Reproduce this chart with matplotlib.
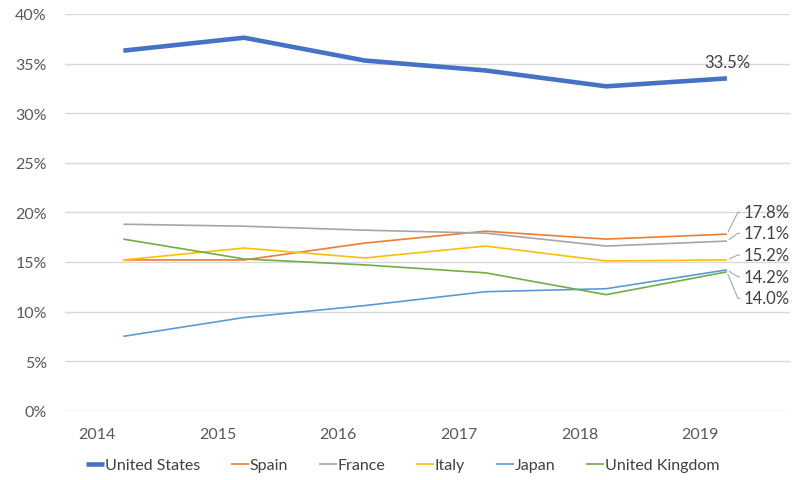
import numpy as np
import matplotlib
matplotlib.use("Agg")
from matplotlib import pyplot as plt
from matplotlib.ticker import PercentFormatter

# share of market by country, in percent
years = [2014, 2015, 2016, 2017, 2018, 2019]
united_states = [36.3, 37.6, 35.3, 34.3, 32.7, 33.5]
spain = [15.2, 15.2, 16.9, 18.1, 17.3, 17.8]
france = [18.8, 18.6, 18.2, 17.9, 16.6, 17.1]
italy = [15.2, 16.4, 15.4, 16.6, 15.1, 15.2]
japan = [7.5, 9.4, 10.6, 12.0, 12.3, 14.2]
united_kingdom = [17.3, 15.3, 14.7, 13.9, 11.7, 14.0]

plt.rcParams['font.family'] = ['Lato', 'DejaVu Sans']
plt.rcParams['font.size'] = 11.5

fig = plt.figure(figsize=(8.07, 4.81), dpi=100)
ax = fig.add_axes([0.0805, 0.144, 0.898, 0.825])

# points sit a bit past each year tick (date axis)
x = np.array(years) + 0.22

series = [
    ("United States", united_states, "#4472C4", 3.3),
    ("Spain", spain, "#ED7D31", 1.2),
    ("France", france, "#A5A5A5", 1.2),
    ("Italy", italy, "#FFC000", 1.2),
    ("Japan", japan, "#5B9BD5", 1.2),
    ("United Kingdom", united_kingdom, "#70AD47", 1.2),
]
for name, vals, col, lw in series:
    ax.plot(x, vals, color=col, lw=lw, label=name, solid_capstyle='butt')

ax.set_ylim(0, 40)
ax.set_xlim(2013.736, 2019.74)
ax.set_yticks(range(0, 41, 5))
ax.yaxis.set_major_formatter(PercentFormatter(decimals=0))
ax.set_xticks(years)
ax.set_xticklabels([str(y) for y in years])
ax.grid(axis='y', color='#D9D9D9', lw=1)
ax.set_axisbelow(True)
for s in ax.spines.values():
    s.set_visible(False)
ax.tick_params(axis='both', length=0, colors='#595959', labelsize=11.5)
ax.tick_params(axis='y', pad=13)
ax.tick_params(axis='x', pad=12)

# end label for the US line
ax.annotate(f"{united_states[-1]:.1f}%", (x[-1], united_states[-1]),
            xytext=(0, 16), textcoords='offset pixels', ha='center',
            va='center', color='#404040', fontsize=12)

# end labels with leader lines for the rest
ends = [(spain, 21.8), (france, 7.8), (italy, 4.9), (japan, -6.9),
        (united_kingdom, -26.5)]
corner_dx = 11
for vals, dy in ends:
    ang = np.degrees(np.arctan2(dy, corner_dx))
    ax.annotate(f"{vals[-1]:.1f}%", (x[-1], vals[-1]),
                xytext=(17, dy), textcoords='offset pixels', ha='left',
                va='center', color='#404040', fontsize=12,
                arrowprops=dict(arrowstyle='-', color='#A6A6A6', lw=0.8,
                                shrinkA=1, shrinkB=2,
                                connectionstyle=f"angle,angleA=0,angleB={ang:.1f},rad=0"))

fig.legend(loc='center', bbox_to_anchor=(0.499, 0.031), ncol=6, frameon=False,
           handlelength=1.1, handletextpad=0.05, columnspacing=1.95,
           fontsize=11.5, labelcolor='#404040')

fig.savefig("out.png", dpi=100)
